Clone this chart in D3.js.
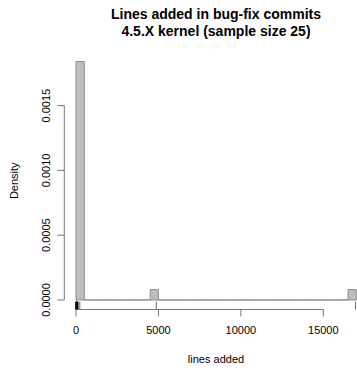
<!DOCTYPE html>
<html>
<head>
    <meta charset="utf-8">
    <title>Lines added histogram</title>
    <script src="https://d3js.org/d3.v7.min.js"></script>
    <style>
    body { margin: 0; background: #fff; }
    svg text { font-family: "Liberation Sans", Arial, sans-serif; fill: #000; }
    </style>
</head>
<body>
<script>
// histogram bins (width 500) and counts per bin, sample size 25
var binStarts = [0, 500, 1000, 1500, 2000, 2500, 3000, 3500, 4000, 4500, 5000, 5500,
    6000, 6500, 7000, 7500, 8000, 8500, 9000, 9500, 10000, 10500, 11000, 11500,
    12000, 12500, 13000, 13500, 14000, 14500, 15000, 15500, 16000, 16500];
var binCounts = [23, 0, 0, 0, 0, 0, 0, 0, 0, 1, 0, 0,
    0, 0, 0, 0, 0, 0, 0, 0, 0, 0, 0, 0,
    0, 0, 0, 0, 0, 0, 0, 0, 0, 1];
// rug of the raw observations
var rugValues = [3, 5, 8, 10, 12, 15, 18, 20, 24, 28, 32, 36, 40, 45, 52, 60, 68, 75, 85, 95, 110, 125, 230, 4870, 16950];
var xTicks = [0, 5000, 10000, 15000];
var yTicks = [0, 0.0005, 0.0010, 0.0015];

var binWidth = 500;
var n = 25;
var W = 357, H = 368;

var svg = d3.select("body").append("svg")
    .attr("width", W)
    .attr("height", H);

// plot region (R style, 4% padding on both axes)
var x = d3.scaleLinear().domain([-680, 17680]).range([64.8, 367.5]);
var maxDens = d3.max(binCounts) / (n * binWidth);
var y = d3.scaleLinear().domain([-0.04 * maxDens, maxDens * 1.04]).range([309.5, 52]);

// bars, zero-height ones show up as the baseline
svg.append("g").selectAll("path")
    .data(binStarts)
    .enter().append("path")
    .attr("d", function(d, i) {
        var x0 = x(d), x1 = x(d + binWidth);
        var y0 = y(0), y1 = y(binCounts[i] / (n * binWidth));
        return "M" + x0 + "," + y0 + "L" + x0 + "," + y1 + "L" + x1 + "," + y1 + "L" + x1 + "," + y0 + "Z";
    })
    .attr("fill", "#bebebe")
    .attr("stroke", "#8c8c8c")
    .attr("stroke-width", 1);

// rug
var tick = 0.03 * (309.5 - 52);
svg.append("g").selectAll("line")
    .data(rugValues)
    .enter().append("line")
    .attr("x1", function(d) { return x(d); })
    .attr("x2", function(d) { return x(d); })
    .attr("y1", 309.5)
    .attr("y2", 309.5 - tick)
    .attr("stroke", "#000")
    .attr("stroke-width", 0.6);

// x axis
var xa = svg.append("g");
xa.append("line")
    .attr("x1", x(xTicks[0])).attr("x2", x(xTicks[xTicks.length - 1]))
    .attr("y1", 309.5).attr("y2", 309.5)
    .attr("stroke", "#555").attr("stroke-width", 0.8);
xa.selectAll("line.tk")
    .data(xTicks)
    .enter().append("line")
    .attr("class", "tk")
    .attr("x1", function(d) { return x(d); })
    .attr("x2", function(d) { return x(d); })
    .attr("y1", 309.5).attr("y2", 316.5)
    .attr("stroke", "#555").attr("stroke-width", 0.8);
xa.selectAll("text")
    .data(xTicks)
    .enter().append("text")
    .attr("x", function(d) { return x(d); })
    .attr("y", 334)
    .attr("text-anchor", "middle")
    .style("font-size", "11px")
    .text(function(d) { return d; });

// y axis
var ya = svg.append("g");
ya.append("line")
    .attr("x1", 64.3).attr("x2", 64.3)
    .attr("y1", y(yTicks[0])).attr("y2", y(yTicks[yTicks.length - 1]))
    .attr("stroke", "#555").attr("stroke-width", 0.8);
ya.selectAll("line.tk")
    .data(yTicks)
    .enter().append("line")
    .attr("class", "tk")
    .attr("x1", 57.3).attr("x2", 64.3)
    .attr("y1", function(d) { return y(d); })
    .attr("y2", function(d) { return y(d); })
    .attr("stroke", "#555").attr("stroke-width", 0.8);
ya.selectAll("text")
    .data(yTicks)
    .enter().append("text")
    .attr("transform", function(d) { return "translate(50," + y(d) + ") rotate(-90)"; })
    .attr("text-anchor", "middle")
    .style("font-size", "11px")
    .text(function(d) { return d3.format(".4f")(d); });

// titles
svg.append("text")
    .attr("x", 216).attr("y", 19)
    .attr("text-anchor", "middle")
    .style("font-size", "14px").style("font-weight", "bold")
    .text("Lines added in bug-fix commits");
svg.append("text")
    .attr("x", 216).attr("y", 36)
    .attr("text-anchor", "middle")
    .style("font-size", "14px").style("font-weight", "bold")
    .text("4.5.X kernel (sample size 25)");
svg.append("text")
    .attr("x", 216).attr("y", 363)
    .attr("text-anchor", "middle")
    .style("font-size", "11px")
    .text("lines added");
svg.append("text")
    .attr("transform", "translate(18," + ((309.5 + 52) / 2) + ") rotate(-90)")
    .attr("text-anchor", "middle")
    .style("font-size", "11px")
    .text("Density");
</script>
</body>
</html>
